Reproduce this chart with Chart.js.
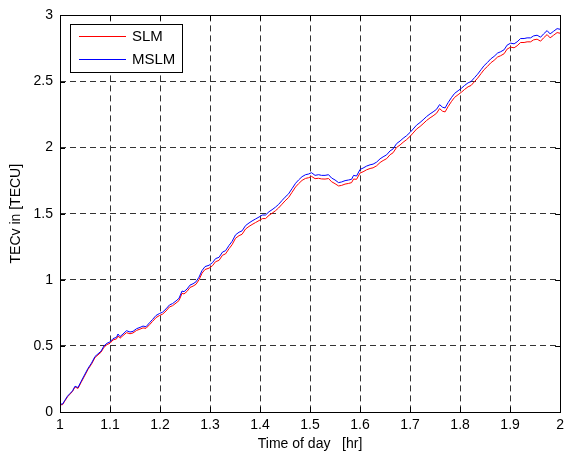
<!DOCTYPE html>
<html lang="en">
<head>
<meta charset="UTF-8">
<title>TECv SLM vs MSLM</title>
<script src="https://cdn.jsdelivr.net/npm/chart.js"></script>
<style>
  html, body { margin: 0; padding: 0; background: #fff; }
</style>
</head>
<body>
<canvas id="tecChart" width="569" height="452"></canvas>
<script>
// time of day [hr]
const timeHr = [1.000,1.005,1.010,1.015,1.020,1.025,1.030,1.036,1.042,1.049,1.056,1.063,1.070,1.076,1.082,1.088,1.094,1.100,
  1.106,1.113,1.116,1.120,1.126,1.133,1.140,1.146,1.153,1.160,1.166,1.172,1.179,1.185,1.192,1.199,
  1.205,1.212,1.219,1.225,1.232,1.238,1.244,1.248,1.254,1.260,1.266,1.272,1.278,1.284,1.290,1.298,
  1.305,1.311,1.318,1.325,1.331,1.338,1.344,1.351,1.358,1.364,1.371,1.378,1.384,1.391,1.398,
  1.405,1.411,1.418,1.424,1.431,1.437,1.444,1.450,1.457,1.464,1.471,1.477,1.484,1.491,1.497,
  1.503,1.510,1.517,1.523,1.530,1.537,1.543,1.550,1.557,1.563,1.570,1.577,1.583,1.587,1.593,
  1.600,1.606,1.613,1.620,1.626,1.633,1.640,1.646,1.653,1.660,1.666,1.673,1.680,1.686,1.693,
  1.700,1.706,1.713,1.720,1.726,1.733,1.740,1.746,1.753,1.759,1.765,1.770,1.776,1.783,1.789,1.796,
  1.803,1.809,1.816,1.822,1.829,1.835,1.842,1.848,1.855,1.861,1.868,1.875,1.881,1.888,1.894,
  1.901,1.908,1.914,1.921,1.928,1.934,1.941,1.947,1.954,1.961,1.967,1.974,1.980,1.987,1.994,2.000];

const slm = [0.055,0.055,0.085,0.115,0.135,0.155,0.190,0.178,0.222,0.272,0.322,0.362,0.412,0.432,0.452,0.490,0.510,0.520,
  0.545,0.553,0.575,0.558,0.578,0.600,0.592,0.598,0.617,0.627,0.636,0.633,0.660,0.685,0.714,0.730,
  0.740,0.764,0.795,0.804,0.824,0.843,0.898,0.893,0.912,0.942,0.952,0.966,1.000,1.050,1.078,1.088,
  1.107,1.137,1.147,1.186,1.196,1.235,1.265,1.314,1.334,1.344,1.384,1.404,1.418,1.433,1.448,
  1.463,1.463,1.488,1.503,1.523,1.543,1.572,1.597,1.622,1.662,1.702,1.727,1.752,1.767,1.772,
  1.782,1.765,1.768,1.763,1.762,1.766,1.742,1.727,1.710,1.714,1.724,1.729,1.735,1.762,1.760,
  1.808,1.817,1.832,1.842,1.847,1.862,1.887,1.902,1.916,1.946,1.961,2.001,2.020,2.040,2.060,
  2.085,2.110,2.140,2.160,2.180,2.205,2.225,2.240,2.260,2.295,2.275,2.270,2.310,2.350,2.380,2.400,
  2.420,2.440,2.460,2.470,2.500,2.525,2.560,2.590,2.615,2.640,2.660,2.685,2.695,2.710,2.745,
  2.760,2.755,2.770,2.795,2.795,2.800,2.800,2.815,2.820,2.805,2.830,2.855,2.830,2.850,2.870,2.865];

const mslm = [0.060,0.060,0.090,0.120,0.140,0.160,0.195,0.185,0.230,0.280,0.330,0.370,0.420,0.440,0.460,0.500,0.520,0.530,
  0.555,0.565,0.590,0.570,0.590,0.615,0.605,0.610,0.630,0.640,0.650,0.645,0.675,0.700,0.730,0.745,
  0.755,0.780,0.810,0.820,0.840,0.860,0.915,0.910,0.930,0.960,0.970,0.985,1.020,1.070,1.100,1.110,
  1.130,1.160,1.170,1.210,1.220,1.260,1.290,1.340,1.360,1.370,1.410,1.430,1.445,1.460,1.475,
  1.490,1.490,1.515,1.530,1.550,1.570,1.600,1.625,1.650,1.690,1.730,1.755,1.780,1.795,1.800,
  1.810,1.790,1.795,1.790,1.790,1.795,1.770,1.755,1.735,1.740,1.750,1.755,1.760,1.790,1.785,
  1.835,1.845,1.860,1.870,1.875,1.890,1.915,1.930,1.945,1.975,1.990,2.030,2.050,2.070,2.090,
  2.115,2.140,2.170,2.190,2.210,2.235,2.255,2.270,2.290,2.325,2.305,2.300,2.340,2.380,2.410,2.430,
  2.450,2.470,2.490,2.500,2.530,2.555,2.590,2.620,2.645,2.670,2.690,2.715,2.725,2.740,2.775,
  2.790,2.785,2.800,2.825,2.825,2.830,2.830,2.845,2.850,2.835,2.860,2.885,2.860,2.880,2.900,2.895];

const xTicks = [1, 1.1, 1.2, 1.3, 1.4, 1.5, 1.6, 1.7, 1.8, 1.9, 2];
const yTicks = [0, 0.5, 1, 1.5, 2, 2.5, 3];
const seriesNames = ['SLM', 'MSLM'];
const seriesColors = ['#ff0000', '#0000ff'];

const FONT = 'Arial, "Liberation Sans", Helvetica, sans-serif';

function toPoints(ys) {
  return timeHr.map((t, i) => ({ x: t, y: ys[i] }));
}

// box frame, inward ticks and the boxed legend, matlab style
const matlabFrame = {
  id: 'matlabFrame',
  afterDatasetsDraw(chart) {
    const { ctx, chartArea: a, scales } = chart;
    ctx.save();
    ctx.setLineDash([]);
    ctx.strokeStyle = '#000';
    ctx.lineWidth = 1;
    ctx.beginPath();
    xTicks.forEach(v => {
      const px = Math.round(scales.x.getPixelForValue(v)) + 0.5;
      ctx.moveTo(px, a.bottom); ctx.lineTo(px, a.bottom - 5);
      ctx.moveTo(px, a.top); ctx.lineTo(px, a.top + 5);
    });
    yTicks.forEach(v => {
      const py = Math.round(scales.y.getPixelForValue(v)) + 0.5;
      ctx.moveTo(a.left, py); ctx.lineTo(a.left + 5, py);
      ctx.moveTo(a.right, py); ctx.lineTo(a.right - 5, py);
    });
    ctx.stroke();
    ctx.strokeRect(Math.round(a.left) + 0.5, Math.round(a.top) + 0.5,
      Math.round(a.right - a.left), Math.round(a.bottom - a.top));

    // legend box
    const lx = Math.round(a.left) + 10, ly = Math.round(a.top) + 9;
    const lw = 112, lh = 48;
    ctx.fillStyle = '#fff';
    ctx.fillRect(lx, ly, lw, lh);
    ctx.strokeStyle = '#000';
    ctx.strokeRect(lx + 0.5, ly + 0.5, lw, lh);
    ctx.font = '15px ' + FONT;
    ctx.textBaseline = 'middle';
    ctx.textAlign = 'left';
    seriesNames.forEach((name, i) => {
      const yy = ly + 12 + i * 23;
      ctx.fillStyle = seriesColors[i];
      ctx.fillRect(lx + 9, yy, 47, 1);
      ctx.fillStyle = '#000';
      ctx.fillText(name, lx + 62, yy + 1);
    });
    ctx.restore();
  }
};

new Chart(document.getElementById('tecChart'), {
  type: 'line',
  data: {
    datasets: [
      { label: seriesNames[0], data: toPoints(slm), borderColor: seriesColors[0], borderWidth: 1, pointRadius: 0, order: 2 },
      { label: seriesNames[1], data: toPoints(mslm), borderColor: seriesColors[1], borderWidth: 1, pointRadius: 0, order: 1 }
    ]
  },
  options: {
    responsive: false,
    animation: false,
    layout: { padding: { top: 15, right: 6, left: 0, bottom: 0 } },
    plugins: { legend: { display: false }, tooltip: { enabled: false } },
    scales: {
      x: {
        type: 'linear',
        min: 1, max: 2,
        afterBuildTicks: s => { s.ticks = xTicks.map(v => ({ value: v })); },
        afterFit: s => { s.height = 40; },
        grid: { color: '#333', drawTicks: false },
        border: { display: false, dash: [6, 4] },
        ticks: { color: '#000', padding: 5, maxRotation: 0, autoSkip: false,
          font: { family: FONT, size: 14 }, callback: v => String(v) },
        title: { display: true, text: 'Time of day   [hr]', color: '#000',
          font: { family: FONT, size: 14 }, padding: { top: 0, bottom: -1 } }
      },
      y: {
        min: 0, max: 3,
        afterBuildTicks: s => { s.ticks = yTicks.map(v => ({ value: v })); },
        afterFit: s => { s.width = 60; },
        grid: { color: '#333', drawTicks: false },
        border: { display: false, dash: [6, 4] },
        ticks: { color: '#000', padding: 7, autoSkip: false,
          font: { family: FONT, size: 14 }, callback: v => String(v) },
        title: { display: true, text: 'TECv in [TECU]', color: '#000',
          font: { family: FONT, size: 14 }, padding: { top: 8, bottom: 0 } }
      }
    }
  },
  plugins: [matlabFrame]
});
</script>
</body>
</html>
